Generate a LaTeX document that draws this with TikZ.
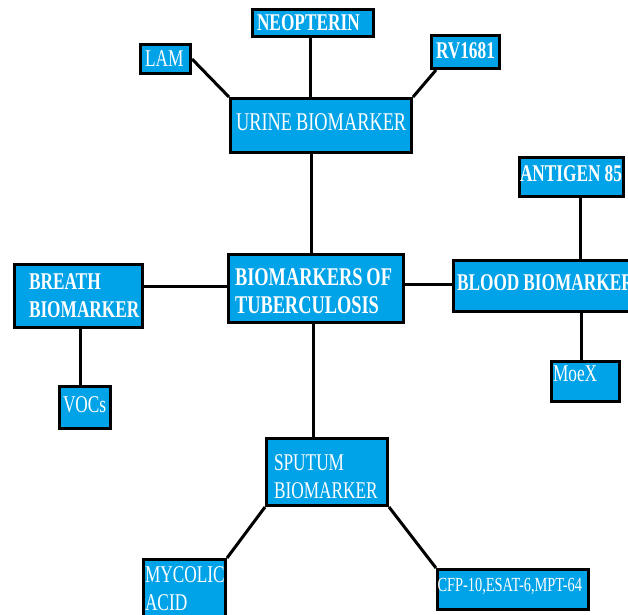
\documentclass[tikz,border=0pt]{standalone}
\usepackage{fontspec}
\setmainfont{Liberation Serif}
\newfontfamily\cond[FakeStretch=0.72]{Liberation Serif}
\usetikzlibrary{calc}
\definecolor{boxblue}{HTML}{00A2E8}
\newcommand\tightsp[1]{\spaceskip=#1\relax}
\begin{document}
\begin{tikzpicture}[x=1pt,y=-1pt,
  box/.style={draw=black,line width=3pt,fill=boxblue,text=white,anchor=north west,
    align=left,inner ysep=0pt,font=\cond\fontsize{24}{28}\selectfont,
    execute at begin node={\tightsp{4pt}}},
  big/.style={font=\cond\fontsize{25.5}{28}\selectfont},
  small/.style={font=\cond\fontsize{20}{26}\selectfont},
  link/.style={draw=black,line width=3pt}]
\clip (0,0) rectangle (628,614);
% boxes
\node[box,minimum width=121,minimum height=27,text width=112,inner xsep=4.5] (neo) at (251,8) {\bfseries\mbox{NEOPTERIN}};
\node[box,minimum width=50,minimum height=29,text width=41,inner xsep=4.5] (lam) at (139,43) {\mbox{LAM}};
\node[box,minimum width=68,minimum height=33,text width=59,inner xsep=4.5] (rv) at (430,34) {\bfseries\raisebox{2pt}{\mbox{RV1681}}};
\node[box,big,minimum width=181,minimum height=54,text width=170,inner xsep=5.5] (urine) at (229,97) {\raisebox{6pt}{\mbox{URINE BIOMARKER}}};
\node[box,minimum width=104,minimum height=39,text width=103,inner xsep=0.5] (antigen) at (518,156) {\bfseries\raisebox{6pt}{\mbox{ANTIGEN 85}}};
\node[box,minimum width=245,minimum height=51,text width=238,inner xsep=3.5] (blood) at (452,259) {\bfseries\raisebox{6pt}{\mbox{BLOOD BIOMARKER}}};
\node[box,minimum width=68,minimum height=40,text width=65,inner xsep=1.5] (moex) at (550,360) {\raisebox{15pt}{\mbox{MoeX}}};
\node[box,minimum width=128,minimum height=63,text width=99,inner xsep=14.5] (breath) at (13,263) {\bfseries\mbox{BREATH}\\\mbox{BIOMARKER}};
\node[box,minimum width=51,minimum height=42,text width=44,inner xsep=3.5] (vocs) at (58,385) {\raisebox{5pt}{\mbox{VOCs}}};
\node[box,big,minimum width=175,minimum height=68,text width=162,inner xsep=6.5] (center) at (227,253) {\bfseries\rule{0pt}{23pt}\mbox{BIOMARKERS OF}\\\mbox{TUBERCULOSIS}};
\node[box,minimum width=121,minimum height=67,text width=106,inner xsep=7.5] (sputum) at (265,437) {\rule{0pt}{26pt}\mbox{SPUTUM}\\\mbox{BIOMARKER}};
\node[box,minimum width=82,minimum height=59,text width=79,inner xsep=1.5] (mycolic) at (142,558) {\mbox{MYCOLIC}\\\mbox{ACID}};
\node[box,small,minimum width=151,minimum height=40,text width=151,inner xsep=0] (cfp) at (436,568) {\raisebox{9pt}{\mbox{CFP-10,ESAT-6,MPT-64}}};
% connectors
\draw[link] ([xshift=-3pt]neo.south) -- ([xshift=-3pt]neo.south |- urine.north);
\draw[link] (lam.east) -- (urine.north west);
\draw[link] ([xshift=6pt]rv.south west) -- (urine.north east);
\draw[link] ([xshift=-10pt]urine.south) -- ([xshift=-10pt]urine.south |- center.north);
\draw[link] ([yshift=2.5pt]center.west) -- ([yshift=2.5pt]center.west -| breath.east);
\draw[link] ([yshift=4.5pt]center.east) -- ([yshift=4.5pt]center.east -| blood.west);
\draw[link] ([xshift=-3pt]center.south) -- ([xshift=-3pt]center.south |- sputum.north);
\draw[link] ([xshift=8.5pt]antigen.south) -- ([xshift=8.5pt]antigen.south |- blood.north);
\draw[link] ([xshift=-4.5pt]moex.north) -- ([xshift=-4.5pt]moex.north |- blood.south);
\draw[link] ([xshift=1.5pt]breath.south) -- ([xshift=1.5pt]breath.south |- vocs.north);
\draw[link] (sputum.south west) -- (mycolic.north east);
\draw[link] (sputum.south east) -- (cfp.north west);
\end{tikzpicture}
\end{document}
